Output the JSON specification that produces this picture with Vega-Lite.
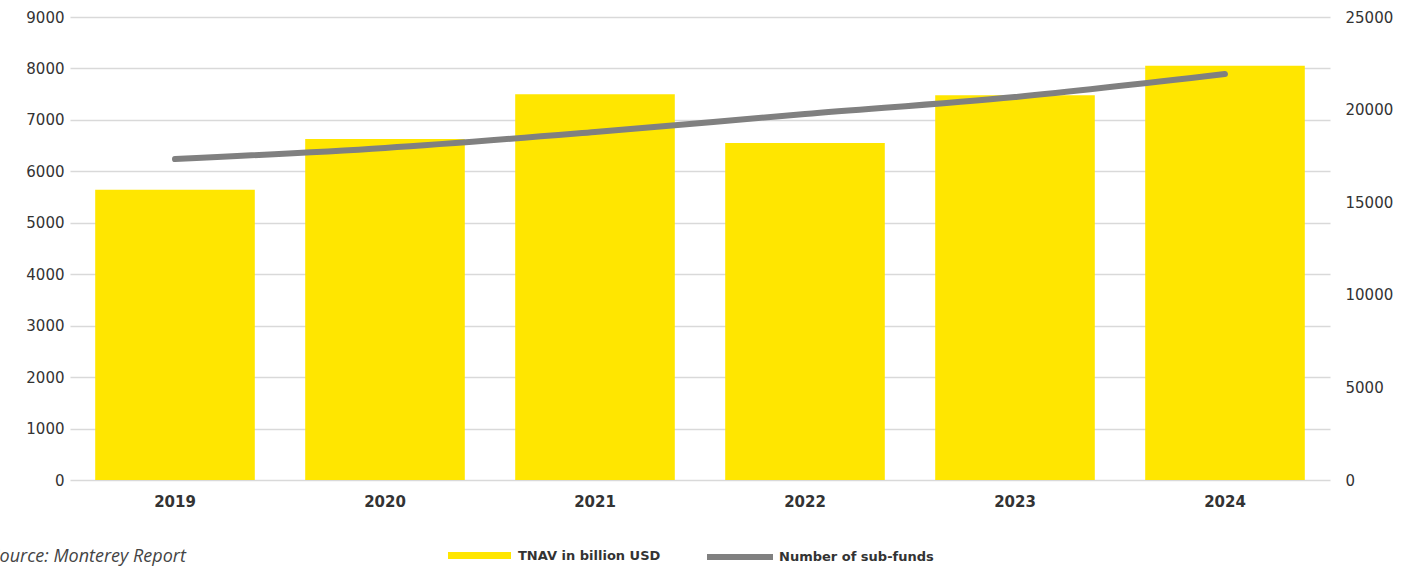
{
  "$schema": "https://vega.github.io/schema/vega-lite/v6.json",
  "width": 1260,
  "height": 463,
  "autosize": {"type": "none"},
  "padding": {"left": 70, "top": 17, "right": 88, "bottom": 87},
  "config": {
    "view": {"stroke": null},
    "font": "DejaVu Sans",
    "axis": {"labelFont": "DejaVu Sans", "labelColor": "#333333", "labelFontSize": 15, "ticks": false, "domain": false, "format": "d"}
  },
  "data": {
    "values": [
      {"year": "2019", "tnav": 5640, "funds": 17330},
      {"year": "2020", "tnav": 6630, "funds": 17930},
      {"year": "2021", "tnav": 7500, "funds": 18790},
      {"year": "2022", "tnav": 6550, "funds": 19760},
      {"year": "2023", "tnav": 7480, "funds": 20680},
      {"year": "2024", "tnav": 8050, "funds": 21920}
    ]
  },
  "layer": [
    {
      "mark": {"type": "bar", "color": "#FFE600"},
      "encoding": {
        "x": {"field": "year", "type": "ordinal", "scale": {"paddingInner": 0.24, "paddingOuter": 0.12},
          "axis": {"labelAngle": 0, "labelFontWeight": "bold", "labelPadding": 14,
            "title": "Source: Monterey Report", "titleFont": "Open Sans", "titleFontSize": 18, "titleFontStyle": "italic",
            "titleFontWeight": "normal", "titleColor": "#444444", "titleAnchor": "start", "titleAlign": "left",
            "titleBaseline": "middle", "titleX": -80, "titleY": 76}},
        "y": {"field": "tnav", "type": "quantitative", "scale": {"domain": [0, 9000], "nice": false},
          "axis": {"title": null, "values": [0,1000,2000,3000,4000,5000,6000,7000,8000,9000], "grid": true, "gridColor": "#d9d9d9", "gridWidth": 1.5, "labelPadding": 6, "orient": "left"}},
        "fill": {"datum": "TNAV in billion USD", "type": "nominal", "scale": {"range": ["#FFE600"]},
          "legend": {"orient": "none", "legendX": 378, "legendY": 507, "direction": "horizontal", "title": null,
            "labelFont": "DejaVu Sans", "labelFontWeight": "bold", "labelFontSize": 13, "labelColor": "#333333",
            "symbolType": "M-1,-0.11H1V0.11H-1Z", "symbolSize": 3969, "symbolStrokeWidth": 0, "labelOffset": 7}}
      }
    },
    {
      "mark": {"type": "line", "interpolate": "monotone", "strokeWidth": 6, "strokeCap": "round"},
      "encoding": {
        "x": {"field": "year", "type": "ordinal"},
        "y": {"field": "funds", "type": "quantitative", "scale": {"domain": [0, 25000], "nice": false},
          "axis": {"title": null, "orient": "right", "values": [0,5000,10000,15000,20000,25000], "grid": false, "labelPadding": 15}},
        "stroke": {"datum": "Number of sub-funds", "type": "nominal", "scale": {"range": ["#808080"]},
          "legend": {"orient": "none", "legendX": 634, "legendY": 504, "direction": "horizontal", "title": null,
            "labelFont": "DejaVu Sans", "labelFontWeight": "bold", "labelFontSize": 13, "labelColor": "#333333",
            "symbolType": "stroke", "symbolSize": 4356, "symbolStrokeWidth": 6, "labelOffset": 3}}
      }
    }
  ],
  "resolve": {"scale": {"y": "independent", "fill": "independent", "stroke": "independent"}}
}
